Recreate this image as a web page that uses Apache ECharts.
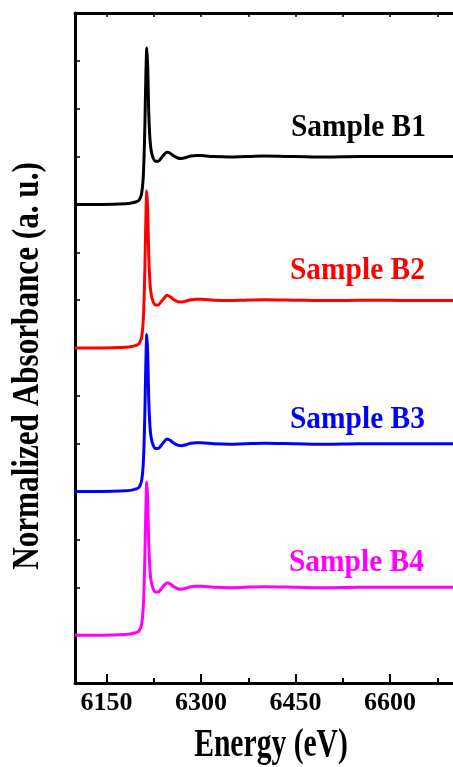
<!DOCTYPE html>
<html>
<head>
<meta charset="utf-8">
<script src="https://cdn.jsdelivr.net/npm/echarts@6/dist/echarts.min.js"></script>
<style>
  html, body { margin: 0; padding: 0; background: #fff; }
  #main { width: 453px; height: 767px; }
</style>
</head>
<body>
<div id="main"></div>
<script>
// energy grid (eV), denser around the edge
var energy = [6100, 6130, 6160, 6180, 6190, 6196, 6201, 6204, 6206, 6208, 6209.5, 6211, 6212.5, 6214, 6215.5, 6217, 6219, 6221, 6224, 6228, 6232, 6237, 6242, 6246, 6251, 6257, 6263, 6269, 6276, 6284, 6293, 6300, 6320, 6345, 6370, 6400, 6450, 6500, 6550, 6600, 6650, 6700];

// stacked spectra (already offset as drawn)
var sampleB1 = [10.0, 10.0, 10.005, 10.015, 10.03, 10.05, 10.08, 10.15, 10.25, 10.5, 10.95, 11.7, 12.7, 13.27, 12.85, 11.95, 11.36, 11.12, 10.97, 10.9, 10.9, 10.97, 11.05, 11.09, 11.07, 11.01, 10.97, 10.96, 10.98, 11.01, 11.02, 11.02, 11.0, 10.99, 11.0, 11.01, 11.0, 10.99, 11.0, 11.0, 11.0, 11.0];
var sampleB2 = [7.0, 7.0, 7.005, 7.015, 7.03, 7.05, 7.08, 7.15, 7.25, 7.5, 7.95, 8.7, 9.7, 10.28, 9.86, 8.95, 8.36, 8.12, 7.97, 7.9, 7.9, 7.97, 8.05, 8.1, 8.07, 8.01, 7.97, 7.96, 7.98, 8.01, 8.02, 8.02, 8.0, 7.99, 8.0, 8.01, 8.0, 7.99, 8.0, 8.0, 7.99, 7.99];
var sampleB3 = [4.0, 4.0, 4.005, 4.015, 4.03, 4.05, 4.08, 4.15, 4.25, 4.5, 4.95, 5.7, 6.7, 7.28, 6.86, 5.95, 5.36, 5.12, 4.97, 4.9, 4.9, 4.97, 5.05, 5.1, 5.07, 5.01, 4.97, 4.96, 4.98, 5.01, 5.02, 5.02, 5.0, 4.99, 5.0, 5.01, 5.0, 4.99, 5.0, 5.0, 5.0, 5.0];
var sampleB4 = [1.0, 1.0, 1.005, 1.015, 1.03, 1.05, 1.08, 1.15, 1.25, 1.5, 1.95, 2.68, 3.65, 4.2, 3.8, 2.93, 2.36, 2.12, 1.97, 1.9, 1.9, 1.97, 2.05, 2.09, 2.07, 2.01, 1.97, 1.96, 1.98, 2.01, 2.02, 2.02, 2.0, 1.99, 2.0, 2.01, 2.0, 1.99, 2.0, 2.0, 2.0, 2.0];

var sampleNames = ['Sample B1', 'Sample B2', 'Sample B3', 'Sample B4'];
var sampleColors = ['#000000', '#ff0000', '#0000ff', '#ff00ff'];
var sampleValues = [sampleB1, sampleB2, sampleB3, sampleB4];

var majorTicks = [6150, 6300, 6450, 6600];
var minorTicks = [6225, 6375, 6525, 6675];
var topTicks = [6150, 6225, 6300, 6375, 6450, 6525, 6600, 6675];

var serif = '"Liberation Serif", "DejaVu Serif", serif';

function pairs(xs, ys) {
  var out = [];
  for (var i = 0; i < xs.length; i++) {
    out.push([xs[i], ys[i]]);
  }
  return out;
}

var chart = echarts.init(document.getElementById('main'), null, { renderer: 'canvas' });

var series = [];
for (var k = 0; k < sampleValues.length; k++) {
  series.push({
    name: sampleNames[k],
    type: 'line',
    xAxisIndex: 0,
    yAxisIndex: 0,
    data: pairs(energy, sampleValues[k]),
    smooth: 0.3,
    showSymbol: false,
    lineStyle: { color: sampleColors[k], width: 3 },
    z: 3
  });
}

// sample labels
var labelY = [127.5, 271, 420, 563];
var labelX = [291, 290, 290, 289];
var graphics = [];
for (var j = 0; j < sampleNames.length; j++) {
  graphics.push({
    type: 'text',
    x: labelX[j],
    y: labelY[j],
    scaleX: 0.92,
    style: {
      text: sampleNames[j],
      fill: sampleColors[j],
      font: 'bold 32px ' + serif,
      align: 'left',
      verticalAlign: 'middle',
      textAlign: 'left',
      textVerticalAlign: 'middle'
    }
  });
}
// axis titles
graphics.push({
  type: 'text',
  x: 271,
  y: 746,
  scaleX: 0.74,
  style: {
    text: 'Energy (eV)',
    fill: '#000',
    font: 'bold 40px ' + serif,
    align: 'center',
    verticalAlign: 'middle',
    textAlign: 'center',
    textVerticalAlign: 'middle'
  }
});
graphics.push({
  type: 'text',
  x: 28,
  y: 366,
  rotation: Math.PI / 2,
  scaleX: 0.82,
  style: {
    text: 'Normalized Absorbance (a. u.)',
    fill: '#000',
    font: 'bold 38px ' + serif,
    align: 'center',
    verticalAlign: 'middle',
    textAlign: 'center',
    textVerticalAlign: 'middle'
  }
});

var option = {
  animation: false,
  backgroundColor: '#fff',
  grid: { left: 75, top: 13, bottom: 84, right: -6, containLabel: false },
  xAxis: [
    {
      type: 'value',
      position: 'bottom',
      min: 6100,
      max: 6700,
      axisLine: { show: true, lineStyle: { color: '#000', width: 3 } },
      axisTick: { show: true, inside: true, length: 9, lineStyle: { color: '#000', width: 2 }, customValues: majorTicks },
      axisLabel: {
        show: true,
        customValues: majorTicks,
        formatter: function (v) { return String(v); },
        color: '#000',
        fontFamily: serif,
        fontWeight: 'bold',
        fontSize: 26,
        margin: 7
      },
      splitLine: { show: false }
    },
    {
      type: 'value',
      position: 'bottom',
      min: 6100,
      max: 6700,
      axisLine: { show: false },
      axisTick: { show: true, inside: true, length: 5, lineStyle: { color: '#000', width: 2 }, customValues: minorTicks },
      axisLabel: { show: false },
      splitLine: { show: false }
    },
    {
      type: 'value',
      position: 'top',
      min: 6100,
      max: 6700,
      axisLine: { show: true, lineStyle: { color: '#000', width: 3 } },
      axisTick: { show: true, inside: true, length: 4, lineStyle: { color: '#000', width: 1.5 }, customValues: topTicks },
      axisLabel: { show: false },
      splitLine: { show: false }
    }
  ],
  yAxis: [
    {
      type: 'value',
      min: 0,
      max: 14,
      interval: 1,
      axisLine: { show: true, lineStyle: { color: '#000', width: 3 } },
      axisTick: { show: true, inside: true, length: 5, lineStyle: { color: '#000', width: 1.5 } },
      axisLabel: { show: false },
      splitLine: { show: false }
    }
  ],
  series: series,
  graphic: graphics
};

chart.setOption(option);
</script>
</body>
</html>
